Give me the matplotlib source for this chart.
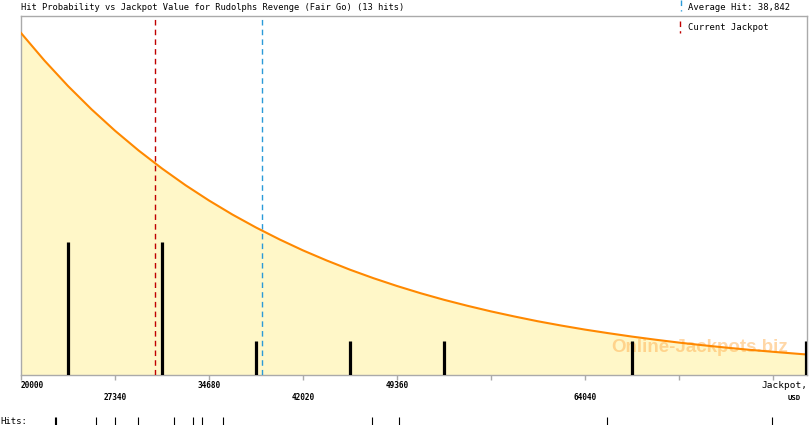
import matplotlib
matplotlib.use("Agg")
import matplotlib.pyplot as plt
import matplotlib.transforms as mtransforms

# ---- data ----
title = "Hit Probability vs Jackpot Value for Rudolphs Revenge (Fair Go) (13 hits)"
x_min, x_max = 20000, 81375
curve_x = [20000, 21835, 23670, 25505, 27340, 29175, 31010, 32845, 34680,
           36515, 38350, 40185, 42020, 43855, 45690, 47525, 49360, 51195,
           53030, 54865, 56700, 58535, 60370, 62205, 64040, 65875, 67710,
           69545, 71380, 73215, 75050, 76885, 78720, 80555, 81375]
curve_y = [342, 314.4, 289.0, 265.7, 244.3, 224.6, 206.5, 189.8, 174.5,
           160.4, 147.5, 135.6, 124.6, 114.6, 105.3, 96.8, 89.0, 81.8,
           75.2, 69.2, 63.6, 58.5, 53.7, 49.4, 45.4, 41.8, 38.4,
           35.3, 32.4, 29.8, 27.4, 25.2, 23.2, 21.3, 20.5]
bar_x = [23670, 31010, 38350, 45690, 53030, 67710, 81300]
bar_h = [133, 133, 34, 34, 34, 34, 34]
tick_vals = [20000, 27340, 34680, 42020, 49360, 56700, 64040, 71380, 78720]
label_row1 = ["20000", "34680", "49360"]
label_row2 = ["27340", "42020", "64040"]
hits = [22620, 22700, 25856, 27340, 29136, 31947, 33431, 34133, 35773,
        47408, 49516, 65758, 78642]
current_jackpot = 30496
average_hit = 38842
avg_label = "Average Hit: 38,842"
cur_label = "Current Jackpot"
watermark = "Online-Jackpots.biz"

W, H = 810, 425
fig = plt.figure(figsize=(W / 100, H / 100), dpi=100)
L, R, T, B = 21, 807, 16, 375
ax = fig.add_axes([L / W, 1 - B / H, (R - L) / W, (B - T) / H])
ax.set_xlim(x_min, x_max)
ax.set_ylim(0, B - T)

fill_c = "#FFF7C8"
ax.fill_between(curve_x, curve_y, 0, color=fill_c, lw=0, zorder=1)
ax.plot(curve_x, curve_y, color="#FF8800", lw=1.5, zorder=4,
        solid_joinstyle="round")

ax.text(73020, 28, watermark, ha="center", va="center",
        fontsize=13.5, fontweight="bold", family="Liberation Sans",
        color="#FFB050", alpha=0.5, zorder=2)

ax.vlines(bar_x, 0, bar_h, color="black", lw=2.3, zorder=5)

ax.axvline(current_jackpot, color="#C00000", lw=1.0, ls=(0, (4, 3)), zorder=3)
ax.axvline(average_hit, color="#2A9AD8", lw=1.0, ls=(0, (4, 3)), zorder=3)

for s in ax.spines.values():
    s.set_color("#AAAAAA")
    s.set_linewidth(1.0)
ax.set_yticks([])
ax.set_xticks(tick_vals)
ax.set_xticklabels([])
ax.tick_params(axis="x", direction="out", length=3.5, width=1.0, color="#AAAAAA")

mono = "DejaVu Sans Mono"
trans = mtransforms.blended_transform_factory(ax.transData, ax.transAxes)
y1 = -(385 - B) / (B - T)
y2 = -(398 - B) / (B - T)
for lab in label_row1:
    v = float(lab)
    ha = "left" if v == x_min else "center"
    ax.text(v, y1, lab, transform=trans, ha=ha, va="center", fontsize=5.6,
            fontweight="bold", family=mono)
for lab in label_row2:
    ax.text(float(lab), y2, lab, transform=trans, ha="center", va="center",
            fontsize=5.6, fontweight="bold", family=mono)
ax.text(x_max, y1, "Jackpot,", transform=trans, ha="right", va="center",
        fontsize=6.8, family=mono)
ax.text(x_max - 500, y2, "USD", transform=trans, ha="right", va="center",
        fontsize=5.2, fontweight="bold", family=mono)

# hits row
h_top = -(417 - B) / (B - T)
h_bot = -(426 - B) / (B - T)
ax.vlines(hits, h_bot, h_top, transform=trans, color="black", lw=0.8, clip_on=False)
fig.text(0 / W, 1 - 421 / H, "Hits:", ha="left", va="center", fontsize=6.5, family=mono)

# title and legend
fig.text(L / W, 1 - 7 / H, title, ha="left", va="center", fontsize=6.3, family=mono)
fig.text(688 / W, 1 - 7 / H, avg_label, ha="left", va="center", fontsize=6.4, family=mono)
fig.text(688 / W, 1 - 27 / H, cur_label, ha="left", va="center", fontsize=6.4, family=mono)
fig.add_artist(plt.Line2D([681 / W, 681 / W], [1 - 0 / H, 1 - 11 / H], color="#2A9AD8",
                          lw=1.0, ls=(0, (4, 3))))
fig.add_artist(plt.Line2D([680 / W, 680 / W], [1 - 21 / H, 1 - 33 / H], color="#C00000",
                          lw=1.0, ls=(0, (4, 3))))

fig.savefig("out.png", dpi=100)
